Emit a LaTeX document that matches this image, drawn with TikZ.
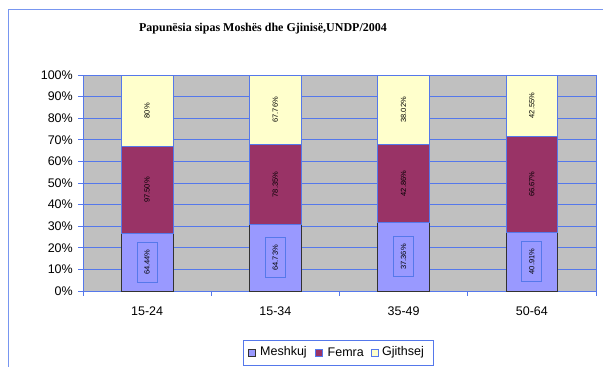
\documentclass[tikz,border=0pt]{standalone}
\usepackage{fontspec}
\setmainfont{Liberation Sans}
\newfontfamily\titlefont{Liberation Serif}
\definecolor{axblue}{RGB}{85,120,235}
\definecolor{frameblue}{RGB}{120,150,240}
\definecolor{plotgray}{RGB}{192,192,192}
\definecolor{mecol}{RGB}{153,153,255}
\definecolor{fecol}{RGB}{153,51,102}
\definecolor{gjcol}{RGB}{255,255,204}
\definecolor{darkedge}{RGB}{50,50,50}
\tikzset{
  axtext/.style={inner sep=0pt, font=\fontsize{12.5}{14}\selectfont},
  lbl/.style={inner sep=0pt, font=\fontsize{7.5}{9}\selectfont, rotate=90},
  lblbox/.style={draw=axblue, line width=0.8pt, inner sep=0pt, minimum width=40pt, minimum height=20pt, font=\fontsize{7.5}{9}\selectfont, rotate=90},
  gridline/.style={draw=axblue, line width=0.8pt},
}
\begin{document}
\begin{tikzpicture}[x=1pt,y=-1pt]
\useasboundingbox (0,0) rectangle (603,367);
\fill[white] (0,0) rectangle (603,367);
\draw[frameblue, line width=1pt] (8,367) -- (8,9) -- (603,9);
\node[inner sep=0pt, font=\titlefont\bfseries\fontsize{12}{14}\selectfont] (title) at (263,29) {Papunësia sipas Moshës dhe Gjinisë,UNDP/2004};
% plot area
\fill[plotgray] (83,75) rectangle (596,291);
\foreach \p in {0,...,10}{
  \pgfmathsetmacro\yy{291-21.6*\p}
  \draw[gridline] (78,\yy) -- (596,\yy);
  \pgfmathtruncatemacro\pc{10*\p}
  \node[axtext, anchor=east] (yl\p) at (73,\yy) {\pc\%};
}
\draw[gridline] (83,75) -- (83,291);
\draw[gridline] (596,75) -- (596,291);
\foreach \k in {0,...,4}{
  \pgfmathsetmacro\xx{83+128.25*\k}
  \draw[gridline] (\xx,291) -- (\xx,296);
}
% bars
\foreach \i/\ma/\fe/\gj/\cat in {1/64.44/97.50/80/15-24, 2/64.73/78.35/67.76/15-34, 3/37.36/42.86/38.02/35-49, 4/40.91/66.67/42.55/50-64}{
  \pgfmathsetmacro\cx{83+128.25*(\i-0.5)}
  \pgfmathsetmacro\tot{\ma+\fe+\gj}
  \pgfmathsetmacro\fa{\ma/\tot}
  \pgfmathsetmacro\fb{(\ma+\fe)/\tot}
  \pgfmathsetmacro\ya{291-216*\fa}
  \pgfmathsetmacro\yb{291-216*\fb}
  \pgfmathsetmacro\xl{\cx-25.8}
  \pgfmathsetmacro\xr{\cx+25.8}
  \filldraw[fill=mecol, draw=darkedge, line width=0.8pt] (\xl,\ya) rectangle (\xr,291);
  \filldraw[fill=fecol, draw=axblue, line width=0.8pt] (\xl,\yb) rectangle (\xr,\ya);
  \filldraw[fill=gjcol, draw=axblue, line width=0.8pt] (\xl,75) rectangle (\xr,\yb);
  \pgfmathsetmacro\ym{(\ya+291)/2}
  \pgfmathsetmacro\yf{(\ya+\yb)/2}
  \pgfmathsetmacro\yg{(\yb+75)/2}
  \node[lblbox] (m\i) at (\cx,\ym) {\ma\%};
  \node[lbl] (f\i) at (\cx,\yf) {\fe\%};
  \node[lbl] (g\i) at (\cx,\yg) {\gj\%};
  \node[axtext] (c\i) at (\cx,311) {\cat};
}
% legend
\draw[axblue, line width=0.8pt, fill=white] (243,340) rectangle (433,365);
\filldraw[fill=mecol, draw=darkedge, line width=0.8pt] (248,349) rectangle (255,356);
\node[axtext, anchor=west] (lm) at (260,352.5) {Meshkuj};
\filldraw[fill=fecol, draw=axblue, line width=0.8pt] (315,349) rectangle (322,356);
\node[axtext, anchor=west] (lf) at (327.5,352.5) {Femra};
\filldraw[fill=gjcol, draw=axblue, line width=0.8pt] (371,349) rectangle (378,356);
\node[axtext, anchor=west] (lg) at (382,352.5) {Gjithsej};
\end{tikzpicture}
\end{document}
